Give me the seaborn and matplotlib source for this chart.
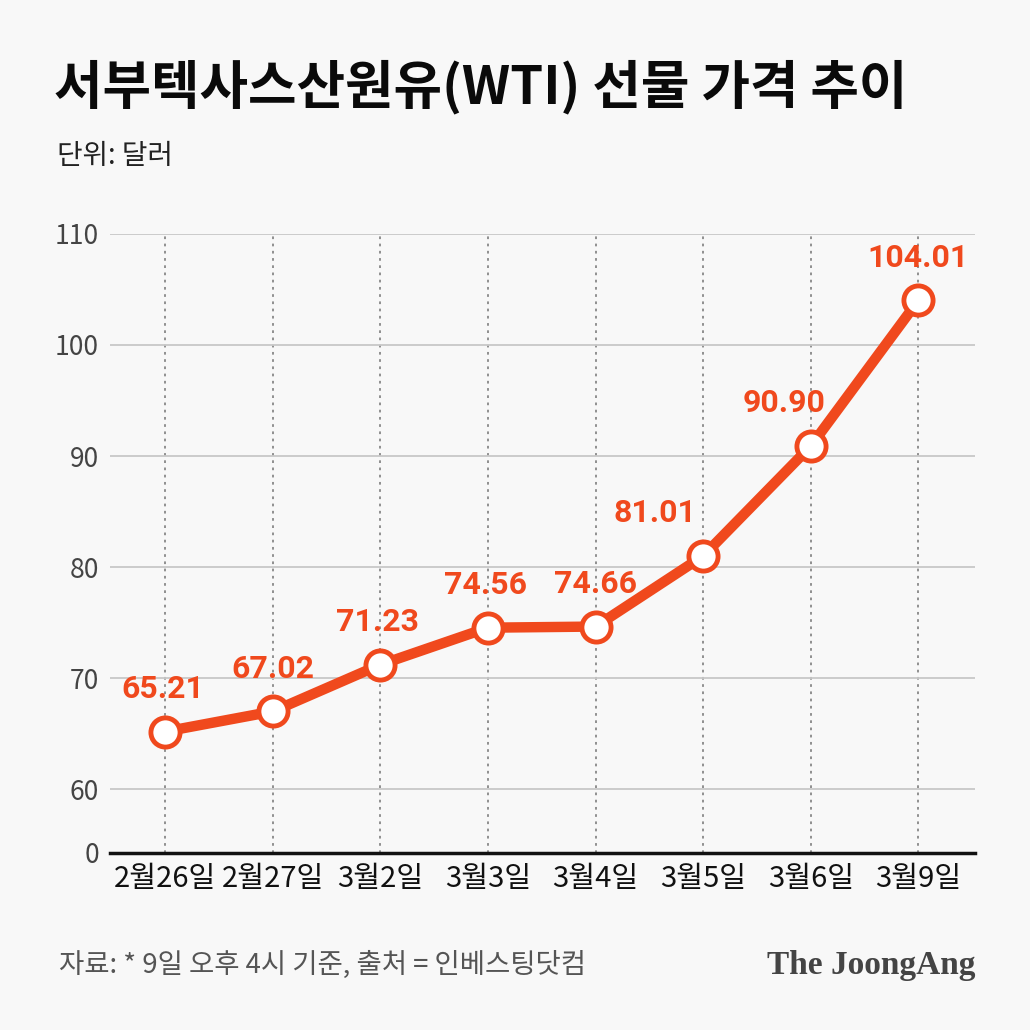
import pandas as pd
import numpy as np
import seaborn as sns
import matplotlib.pyplot as plt

# WTI futures closing prices (USD)
dates = ['2월26일', '2월27일', '3월2일', '3월3일', '3월4일', '3월5일', '3월6일', '3월9일']
prices = [65.21, 67.02, 71.23, 74.56, 74.66, 81.01, 90.90, 104.01]
label_text = ['65.21', '67.02', '71.23', '74.56', '74.66', '81.01', '90.90', '104.01']
y_ticks = [60, 70, 80, 90, 100, 110]

df = pd.DataFrame({'date': dates, 'price': prices, 'pos': np.arange(len(dates))})

sns.set_style('white')
plt.rcParams['font.family'] = ['Noto Sans CJK KR', 'DejaVu Sans']

bg = '#f8f8f8'
orange = '#f0491d'

fig = plt.figure(figsize=(10.3, 10.3), dpi=100, facecolor=bg)
ax = fig.add_axes([0.107, 0.172, 0.840, 0.601], facecolor=bg)

# vertical dotted guides
for p in df['pos']:
    ax.axvline(p, color='#888888', lw=1.3, ls=(0, (1.5, 2.5)), zorder=1)
for t in y_ticks:
    ax.axhline(t, color='#c8c8c8', lw=1.3, zorder=1)

sns.lineplot(data=df, x='pos', y='price', ax=ax, color=orange, lw=7.5,
             marker='o', markersize=21, markerfacecolor='white',
             markeredgecolor=orange, markeredgewidth=3.5, zorder=3)

# value labels
offsets = [-0.02, 0, -0.03, -0.02, 0, -0.45, -0.25, 0]
for p, v, s, dx in zip(df['pos'], prices, label_text, offsets):
    ax.annotate(s, (p + dx, v), xytext=(0, 20), textcoords='offset points',
                ha='center', va='bottom', fontsize=23, fontweight='bold',
                color=orange, family=['Roboto', 'DejaVu Sans'], zorder=4)

# broken axis: 0 shown at the bottom
y0 = 54.3
ax.set_ylim(y0, 110)
ax.set_xlim(-0.51, 7.53)
ax.set_yticks([y0] + y_ticks)
ax.set_yticklabels(['0'] + [str(t) for t in y_ticks], fontsize=19, color='#444444')
ax.set_xticks(df['pos'])
ax.set_xticklabels(dates, fontsize=21, color='#111111')
ax.tick_params(axis='both', length=0)
ax.tick_params(axis='y', pad=8)
ax.tick_params(axis='x', pad=8)
ax.set_xlabel('')
ax.set_ylabel('')
for side in ['left', 'right', 'top']:
    ax.spines[side].set_visible(False)
ax.spines['bottom'].set_color('#111111')
ax.spines['bottom'].set_linewidth(2.5)

fig.text(0.052, 0.915, '서부텍사스산원유(WTI) 선물 가격 추이', fontsize=38,
         fontweight='black', color='#0a0a0a', va='center', ha='left')
fig.text(0.055, 0.849, '단위: 달러', fontsize=20, color='#222222', va='center', ha='left')
fig.text(0.057, 0.063, '자료: * 9일 오후 4시 기준, 출처 = 인베스팅닷컴', fontsize=19.8,
         color='#555555', va='center', ha='left')
fig.text(0.947, 0.063, 'The JoongAng', fontsize=24, fontweight='bold', color='#444444',
         va='center', ha='right', family=['Liberation Serif', 'DejaVu Serif'])

fig.savefig('out.png', dpi=100, facecolor=bg)
